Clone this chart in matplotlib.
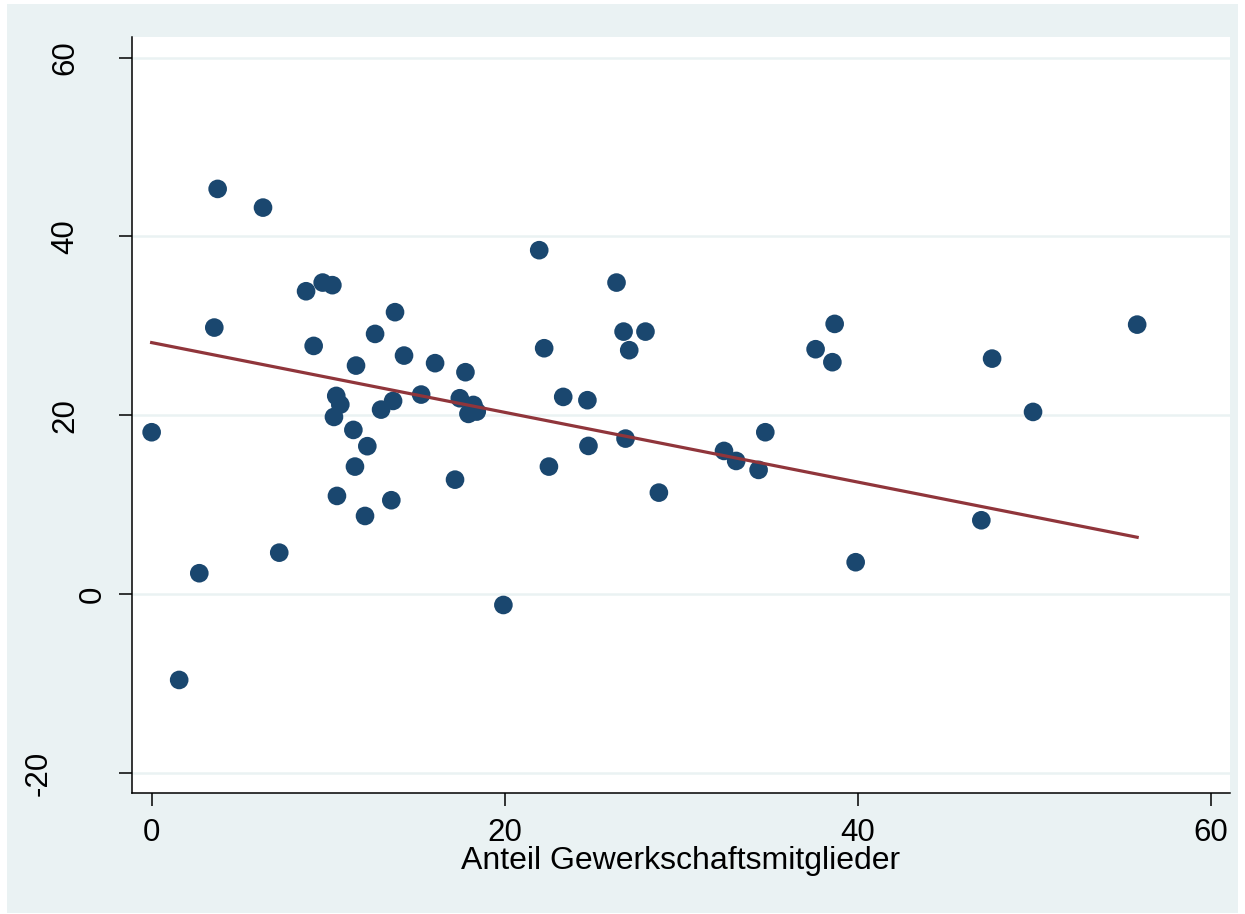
import matplotlib
matplotlib.use("Agg")
import matplotlib.pyplot as plt
import matplotlib.transforms as mtransforms
from matplotlib.patches import Rectangle

plt.rcParams['font.family'] = ['Liberation Sans', 'DejaVu Sans']
plt.rcParams['axes.unicode_minus'] = False

# Data
union_share = [0.0, 1.56, 2.70, 3.55, 3.74, 6.31, 7.23, 8.75, 9.18, 9.69,
               10.24, 10.33, 10.46, 10.69, 10.50, 11.43, 11.52, 11.58, 12.09, 12.22,
               12.66, 13.00, 13.58, 13.68, 13.79, 14.30, 15.27, 16.06, 17.19, 17.46,
               17.78, 17.95, 18.23, 18.42, 19.93, 21.96, 22.24, 22.51, 23.32, 24.69,
               24.75, 26.34, 26.74, 26.85, 27.06, 27.98, 28.74, 32.43, 33.12, 34.39,
               34.77, 37.62, 38.70, 38.57, 39.89, 47.01, 47.62, 49.94, 55.84]
y_values = [18.12, -9.57, 2.36, 29.82, 45.32, 43.23, 4.66, 33.88, 27.77, 34.85,
            34.56, 19.83, 22.18, 21.21, 11.00, 18.38, 14.28, 25.57, 8.76, 16.56,
            29.11, 20.65, 10.52, 21.62, 31.54, 26.69, 22.33, 25.84, 12.82, 21.92,
            24.83, 20.17, 21.17, 20.43, -1.19, 38.47, 27.51, 14.28, 22.07, 21.70,
            16.59, 34.85, 29.37, 17.41, 27.29, 29.37, 11.37, 16.03, 14.91, 13.91,
            18.12, 27.40, 30.23, 25.95, 3.59, 8.28, 26.35, 20.39, 30.15]
fit_x = [0.0, 55.84]
fit_y = [28.14, 6.38]

x_ticks = [0, 20, 40, 60]
y_ticks = [-20, 0, 20, 40, 60]
x_label = "Anteil Gewerkschaftsmitglieder"

W, H = 1245, 914
fig = plt.figure(figsize=(W / 100, H / 100), dpi=100)
fig.patch.set_facecolor('white')
bg = '#EAF2F3'
fig.patches.append(Rectangle((7 / W, 1 - 913 / H), (1238 - 7) / W, (913 - 4) / H,
                             transform=fig.transFigure, facecolor=bg,
                             edgecolor='none', zorder=-10))

ax = fig.add_axes([131.7 / W, 1 - 793.3 / H, (1230 - 131.7) / W, (793.3 - 37) / H])
ax.set_zorder(5)
ax.set_facecolor('white')
ax.set_xlim(-1.13, 61.1)
ax.set_ylim(-22.24, 62.3)

for yt in y_ticks:
    ax.axhline(yt, color=bg, lw=1.8, zorder=1)

ax.scatter(union_share, y_values, s=180, color='#1A476F', edgecolors='none', zorder=3)
ax.plot(fit_x, fit_y, color='#90353B', lw=2.3, zorder=4)

for side in ['top', 'right']:
    ax.spines[side].set_visible(False)
for side in ['left', 'bottom']:
    ax.spines[side].set_linewidth(1.1)
    ax.spines[side].set_color('black')

ax.set_xticks(x_ticks)
ax.set_xticklabels([str(t) for t in x_ticks])
ax.set_yticks(y_ticks)
ax.set_yticklabels([str(t) for t in y_ticks], rotation=90, va='center')
ax.tick_params(axis='both', direction='out', length=9.5, width=1.1,
               labelsize=22.5, colors='black')
ax.tick_params(axis='x', pad=8)
ax.tick_params(axis='y', pad=8)

# Stata-style offset of rotated y labels depending on label length
for lab in ax.get_yticklabels():
    n = len(lab.get_text())
    dx = -(n - 1) * 27 / 100.0
    lab.set_transform(lab.get_transform() +
                      mtransforms.ScaledTranslation(dx, 0, fig.dpi_scale_trans))

ax.set_xlabel(x_label, fontsize=23, labelpad=-1)

fig.savefig('out.png', dpi=100, facecolor=fig.get_facecolor())
